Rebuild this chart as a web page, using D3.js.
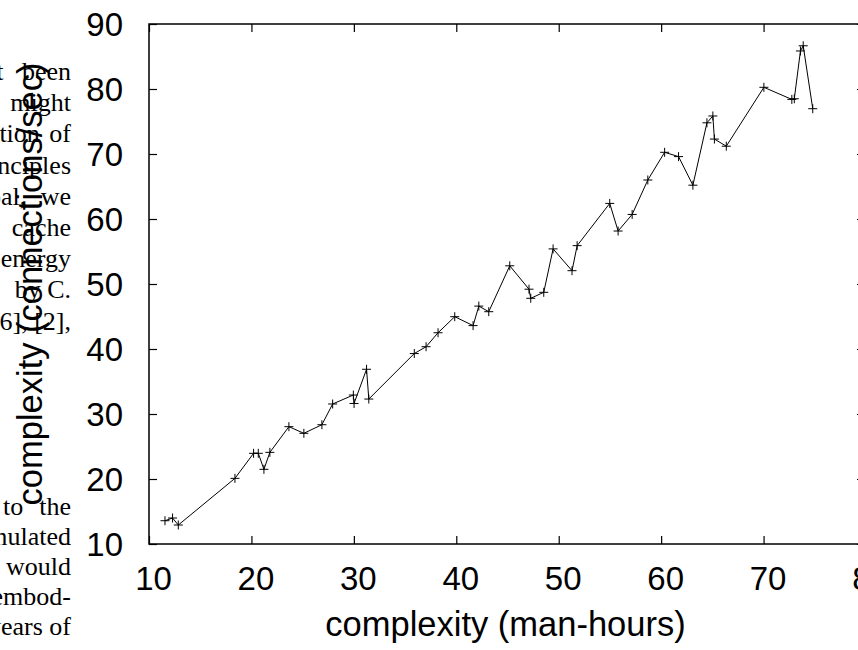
<!DOCTYPE html>
<html>
<head>
<meta charset="utf-8">
<script src="https://cdn.jsdelivr.net/npm/d3@7"></script>
<style>
  html, body { margin: 0; padding: 0; background: #fff; overflow: hidden; }
  svg { display: block; }
</style>
</head>
<body>
<svg id="chart" width="858" height="650"></svg>
<script>
// ---- data ----
const xValues = [11.56, 12.3, 12.86, 18.39, 20.21, 20.67, 21.22, 21.8, 23.66, 25.12,
  26.88, 27.93, 29.95, 30.02, 31.24, 31.46, 35.9, 37.05, 38.22, 39.85,
  41.64, 42.2, 43.17, 45.22, 47.1, 47.27, 48.54, 49.45, 51.3, 51.8,
  54.98, 55.8, 57.17, 58.7, 60.34, 61.7, 63.1, 64.47, 65.05, 65.2,
  66.36, 70.03, 72.76, 73.0, 73.6, 73.87, 74.8];
const yValues = [13.58, 14.0, 12.92, 20.1, 23.95, 23.95, 21.49, 24.1, 28.05, 27.03,
  28.35, 31.54, 32.92, 31.62, 36.88, 32.3, 39.3, 40.35, 42.5, 44.97,
  43.6, 46.6, 45.74, 52.8, 49.2, 47.8, 48.72, 55.4, 52.05, 55.9,
  62.4, 58.15, 60.7, 66.0, 70.26, 69.6, 65.2, 74.8, 75.85, 72.3,
  71.2, 80.26, 78.4, 78.5, 85.85, 86.65, 76.97];
const xTicks = [10, 20, 30, 40, 50, 60, 70, 80];
const yTicks = [10, 20, 30, 40, 50, 60, 70, 80, 90];
const xTitle = "complexity (man-hours)";
const yTitle = "complexity (connections/sec)";
// background page text fragments (right edge of a justified column)
const pageTextTop = ["has not been", "might", "evaluation of", "principles", "goal, we", "cache", "energy", "by C.", "[16], [2],"];
const pageTextBottom = ["to the", "accumulated", "would", "embod-", "years of"];

// ---- layout ----
const svg = d3.select("#chart");
const L = 149, R = 866, T = 24, B = 544;
const x = d3.scaleLinear().domain([10, 80]).range([L, R]);
const y = d3.scaleLinear().domain([10, 90]).range([B, T]);

// background page text
const topSpacing = {0: 12, 2: 3, 4: 8};
const botSpacing = {0: 9.5};
const pg = svg.append("g")
  .attr("font-family", "'Liberation Serif', 'Times New Roman', serif")
  .attr("font-size", 26).attr("fill", "#000").attr("text-anchor", "end");
pageTextTop.forEach((s, i) => {
  pg.append("text").attr("x", 71).attr("y", 80 + i * 31.2)
    .attr("word-spacing", topSpacing[i] || 0).text(s);
});
pageTextBottom.forEach((s, i) => {
  pg.append("text").attr("x", 71).attr("y", 515 + i * 30)
    .attr("word-spacing", botSpacing[i] || 0).text(s);
});

// axes
const fontSans = "'Liberation Sans', Arial, Helvetica, sans-serif";
const tickLen = 8;
const axB = svg.append("g").attr("transform", `translate(0,${B})`)
  .call(d3.axisBottom(x).tickValues(xTicks).tickSize(-tickLen).tickPadding(0).tickFormat(d3.format("d")));
const axT = svg.append("g").attr("transform", `translate(0,${T})`)
  .call(d3.axisTop(x).tickValues(xTicks).tickSize(-tickLen).tickFormat(""));
const axL = svg.append("g").attr("transform", `translate(${L},0)`)
  .call(d3.axisLeft(y).tickValues(yTicks).tickSize(-tickLen).tickPadding(0).tickFormat(d3.format("d")));
const axR = svg.append("g").attr("transform", `translate(${R},0)`)
  .call(d3.axisRight(y).tickValues(yTicks).tickSize(-(tickLen + 1)).tickFormat(""));
[axB, axT, axL, axR].forEach(g => {
  g.select(".domain").remove();
  g.selectAll(".tick line").attr("stroke", "#000").attr("stroke-width", 1.2);
});
axB.selectAll(".tick text")
  .attr("font-family", fontSans).attr("font-size", 33).attr("fill", "#000")
  .attr("y", 46).attr("dy", 0).attr("dx", 4);
axL.selectAll(".tick text")
  .attr("font-family", fontSans).attr("font-size", 33).attr("fill", "#000")
  .attr("x", -26).attr("dy", "0.36em");

// frame
svg.append("rect").attr("x", L).attr("y", T).attr("width", R - L).attr("height", B - T)
  .attr("fill", "none").attr("stroke", "#000").attr("stroke-width", 1.5);

// data line
const pts = xValues.map((v, i) => [v, yValues[i]]);
svg.append("path").datum(pts)
  .attr("fill", "none").attr("stroke", "#000").attr("stroke-width", 1)
  .attr("d", d3.line().x(d => x(d[0])).y(d => y(d[1])));
const s = 4.5;
svg.append("g").selectAll("path").data(pts).join("path")
  .attr("fill", "none").attr("stroke", "#000").attr("stroke-width", 1)
  .attr("d", d => {
    const cx = x(d[0]), cy = y(d[1]);
    return `M${cx - s},${cy}H${cx + s}M${cx},${cy - s}V${cy + s}`;
  });

// titles
svg.append("text").attr("x", (L + R) / 2 - 2).attr("y", 636)
  .attr("text-anchor", "middle").attr("font-family", fontSans).attr("font-size", 34.5)
  .attr("fill", "#000").text(xTitle);
svg.append("text").attr("transform", `translate(42,${(T + B) / 2}) rotate(-90)`)
  .attr("text-anchor", "middle").attr("font-family", fontSans).attr("font-size", 34.5)
  .attr("fill", "#000").text(yTitle);
</script>
</body>
</html>
